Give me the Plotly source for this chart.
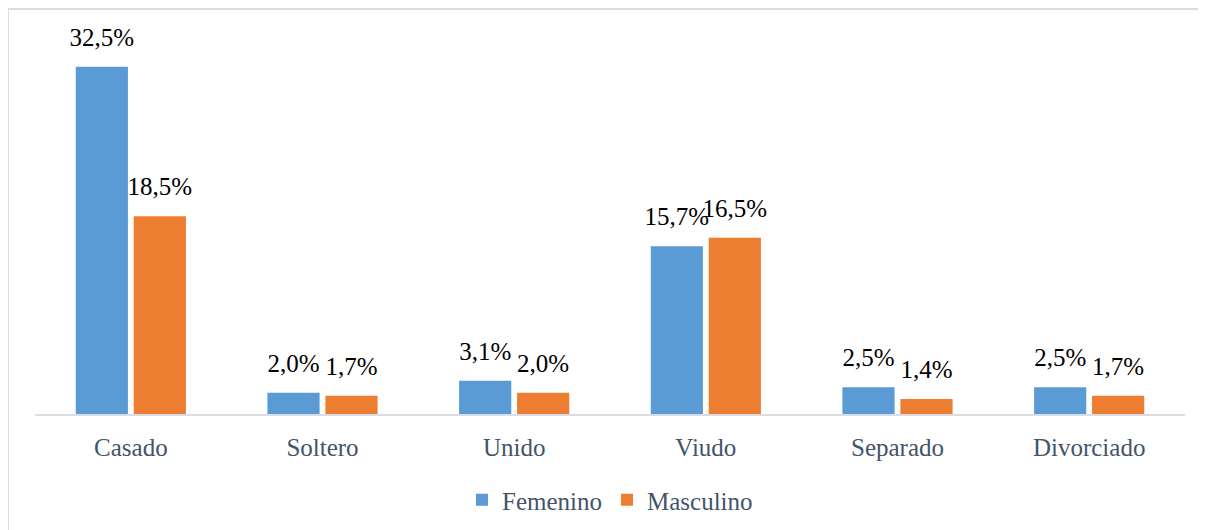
import plotly.graph_objects as go

categories = ["Casado", "Soltero", "Unido", "Viudo", "Separado", "Divorciado"]
femenino = [32.5, 2.0, 3.1, 15.7, 2.5, 2.5]
masculino = [18.5, 1.7, 2.0, 16.5, 1.4, 1.7]
series = [("Femenino", femenino, "#5B9BD5"), ("Masculino", masculino, "#ED7D31")]

def fmt(v):
    return f"{v:.1f}".replace(".", ",") + "%"

font_family = "Liberation Serif"

fig = go.Figure()
for name, vals, color in series:
    fig.add_trace(go.Bar(
        name=name, x=categories, y=vals,
        marker=dict(color=color, line=dict(width=0)),
    ))
for name, vals, color in series:
    fig.add_trace(go.Scatter(
        name=name + " labels", x=categories, y=vals, mode="markers+text",
        text=[fmt(v) for v in vals], textposition="top center",
        textfont=dict(family=font_family, size=25, color="#000000"),
        marker=dict(size=22, opacity=0), showlegend=False, hoverinfo="skip",
        cliponaxis=False,
    ))

fig.update_layout(
    width=1206, height=530,
    paper_bgcolor="white", plot_bgcolor="white",
    margin=dict(l=27, r=29, t=32, b=124),
    barmode="group", bargap=0.395, bargroupgap=0.1,
    scattermode="group", scattergap=0.395,
    font=dict(family=font_family, size=25, color="#44546A"),
    showlegend=True,
    legend=dict(orientation="h", x=0.5, xanchor="center", y=-0.23, yanchor="middle",
                font=dict(family=font_family, size=25, color="#44546A"),
                itemwidth=30, traceorder="normal"),
    xaxis=dict(showline=True, linecolor="#D9DDE6", linewidth=2, showgrid=False,
               ticks="", ticklabelstandoff=10,
               tickfont=dict(family=font_family, size=25, color="#44546A")),
    yaxis=dict(range=[0, 35], visible=False, showgrid=False, zeroline=False),
    shapes=[dict(type="rect", xref="paper", yref="paper",
                 x0=-0.0235, x1=1.2, y0=-0.6, y1=1.083,
                 line=dict(color="#D9DDE6", width=2), fillcolor="rgba(0,0,0,0)", layer="below")],
)

fig.write_html("out.html")
